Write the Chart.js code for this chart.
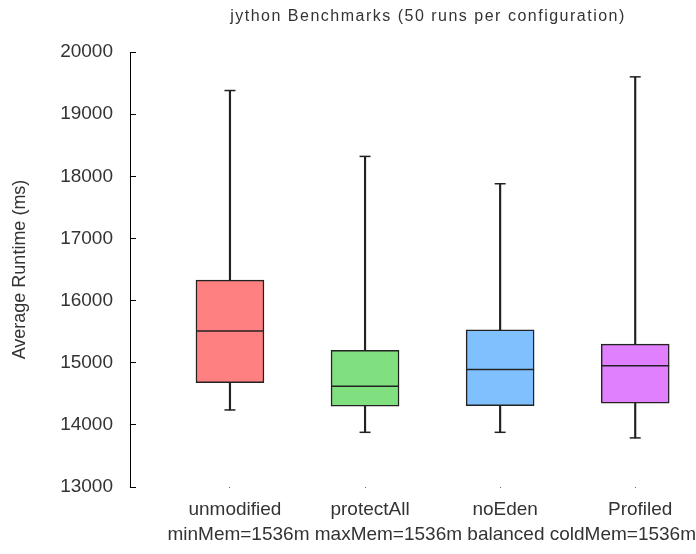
<!DOCTYPE html>
<html>
<head>
<meta charset="utf-8">
<script src="https://cdn.jsdelivr.net/npm/chart.js@4"></script>
<style>
  html, body { margin: 0; padding: 0; background: #fff; }
  #wrap { width: 696px; height: 554px; position: relative; }
</style>
</head>
<body>
<div id="wrap"><canvas id="chart"></canvas></div>
<script>
// jython benchmark box plot
const categories = ['unmodified', 'protectAll', 'noEden', 'Profiled'];
const whiskerLow  = [14240, 13880, 13880, 13790];
const boxLow      = [14680, 14300, 14310, 14350];
const medians     = [15510, 14620, 14890, 14950];
const boxHigh     = [16330, 15200, 15530, 15300];
const whiskerHigh = [19380, 18320, 17880, 19600];
const boxColors   = ['#ff8080', '#80e080', '#80c0ff', '#e080ff'];

const titleText = 'jython Benchmarks (50 runs per configuration)';
const xTitle = 'minMem=1536m maxMem=1536m balanced coldMem=1536m';
const yTitle = 'Average Runtime (ms)';

const FONT = '"Liberation Sans", Arial, sans-serif';
const INK = '#333';

const pos = categories.map((c, i) => i + 1);
const pts = arr => arr.map((v, i) => ({x: pos[i], y: v}));
const spans = (lo, hi) => lo.map((v, i) => ({x: pos[i], y: [v, hi[i]]}));

// title drawn by hand so its spacing matches the original
const topTitle = {
  id: 'topTitle',
  afterDraw(chart) {
    const {ctx, chartArea} = chart;
    ctx.save();
    ctx.font = '16px ' + FONT;
    ctx.letterSpacing = '1.5px';
    ctx.fillStyle = INK;
    ctx.textAlign = 'center';
    ctx.textBaseline = 'middle';
    ctx.fillText(titleText, chartArea.left + 298, 17);
    ctx.restore();
  }
};

const whiskerStyle = {type: 'bar', grouped: false, barThickness: 1.5, backgroundColor: '#222', borderWidth: 0, order: 3};
const capStyle = {type: 'scatter', pointStyle: 'line', pointRadius: 5.5, borderColor: '#222', borderWidth: 1.5, order: 2};

new Chart(document.getElementById('chart'), {
  type: 'bar',
  data: {
    datasets: [
      {...whiskerStyle, label: 'upper whisker', data: spans(boxHigh, whiskerHigh)},
      {...whiskerStyle, label: 'lower whisker', data: spans(whiskerLow, boxLow)},
      {...capStyle, label: 'max', data: pts(whiskerHigh)},
      {...capStyle, label: 'min', data: pts(whiskerLow)},
      {type: 'bar', label: 'box', grouped: false, barThickness: 68, data: spans(boxLow, boxHigh),
       backgroundColor: boxColors, borderColor: '#222', borderWidth: 1.5, borderSkipped: false, order: 1},
      {type: 'scatter', label: 'median', data: pts(medians), pointStyle: 'line', pointRadius: 34,
       borderColor: '#222', borderWidth: 1.5, order: 0},
    ]
  },
  options: {
    responsive: true,
    maintainAspectRatio: false,
    animation: false,
    events: [],
    // median markers are wide points; keep them from padding the layout
    layout: {autoPadding: false, padding: {top: 52, left: 9, right: 0, bottom: 0}},
    plugins: {legend: {display: false}, tooltip: {enabled: false}, title: {display: false}},
    scales: {
      x: {
        type: 'linear', min: 0.26, max: 4.45, offset: false, bounds: 'data',
        afterBuildTicks: s => { s.ticks = pos.map(v => ({value: v})); },
        afterFit: s => { s.height = 67; s.paddingLeft = 0; s.paddingRight = 0; },
        border: {display: false},
        grid: {offset: false, drawOnChartArea: false, drawTicks: true, tickLength: 1, color: '#666'},
        ticks: {padding: 10, labelOffset: 5, color: INK, font: {family: FONT, size: 19},
                callback: v => categories[v - 1] || ''},
        title: {display: true, text: xTitle, align: 'end', color: INK,
                font: {family: FONT, size: 19}, padding: {top: 0, bottom: 7.6}}
      },
      y: {
        min: 13000, max: 20000,
        afterFit: s => { s.width = 121; },
        border: {display: true, color: '#000', width: 1, dash: [5, 2000]},
        grid: {drawOnChartArea: true, drawTicks: false, color: '#000', lineWidth: 1},
        ticks: {stepSize: 1000, padding: 17, color: INK, font: {family: FONT, size: 19},
                callback: v => String(v)},
        title: {display: true, text: yTitle, color: INK,
                font: {family: FONT, size: 18}, padding: {top: 0, bottom: 0}}
      }
    }
  },
  plugins: [topTitle]
});
</script>
</body>
</html>
